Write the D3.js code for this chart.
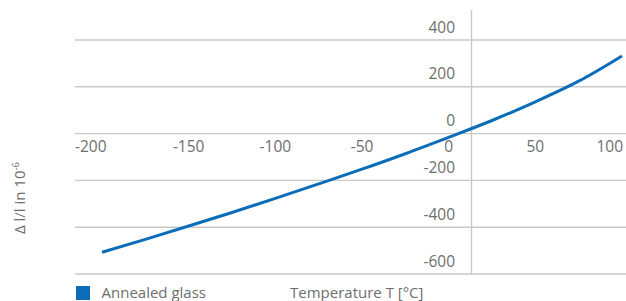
<html>
<head>
<meta charset="utf-8">
<title>Thermal expansion</title>
<script src="https://d3js.org/d3.v7.min.js"></script>
<style>
body { margin:0; background:#fff; }
text { font-family:"Open Sans", sans-serif; fill:#6e6e6e; }
</style>
</head>
<body>
<div id="chart"></div>
<script>

// data
var temps = [-200, -175, -150, -125, -100, -75, -50, -25, 0, 25, 50, 75, 100];
var expansion = [-507, -452, -395, -337, -277, -215, -152, -86, -16, 56, 136, 224, 332];
var xTicks = [-200, -150, -100, -50, 0, 50, 100];
var yTicks = [400, 200, 0, -200, -400, -600];
var seriesName = "Annealed glass";

var width = 626, height = 301;
var gridLeft = 75, axisX = 471.5;
var blue = "#0b6db8", grid = "#c9c9c9";

var svg = d3.select("#chart").append("svg")
	.attr("width", width).attr("height", height);

var x = d3.scaleLinear().domain([-200, 100]).range([102, 622]);
var y = d3.scaleLinear().domain([-600, 400]).range([274, 40]);

// horizontal grid lines (0 is the x axis)
svg.append("g").selectAll("line").data(yTicks).enter().append("line")
	.attr("x1", gridLeft).attr("x2", width)
	.attr("y1", function(d) { return y(d); })
	.attr("y2", function(d) { return y(d); })
	.attr("stroke", grid).attr("stroke-width", 1.4);

// vertical axis line
svg.append("line")
	.attr("x1", axisX).attr("x2", axisX)
	.attr("y1", 10).attr("y2", y(-600))
	.attr("stroke", grid).attr("stroke-width", 1.4);

// y labels sit above their grid line
svg.append("g").selectAll("text").data(yTicks).enter().append("text")
	.attr("x", 455)
	.attr("y", function(d) { return y(d) - 7.5; })
	.attr("text-anchor", "end")
	.style("font-size", "15.5px")
	.text(function(d) { return d; });

// x labels
svg.append("g").selectAll("text").data(xTicks).enter().append("text")
	.attr("x", function(d, i) {
		if (i == 0) return gridLeft;
		if (i == xTicks.length - 1) return width - 3;
		return x(d);
	})
	.attr("y", y(0) + 18.5)
	.attr("text-anchor", function(d, i) {
		if (i == 0) return "start";
		if (i == xTicks.length - 1) return "end";
		return "middle";
	})
	.style("font-size", "15.5px")
	.text(function(d) { return d; });

// the curve
var line = d3.line()
	.x(function(d, i) { return x(temps[i]); })
	.y(function(d) { return y(d); })
	.curve(d3.curveMonotoneX);

svg.append("path")
	.datum(expansion)
	.attr("d", line)
	.attr("fill", "none")
	.attr("stroke", blue)
	.attr("stroke-width", 3);

// y axis title
var yt = svg.append("text")
	.attr("transform", "translate(24.5,198) rotate(-90)")
	.attr("text-anchor", "middle")
	.style("font-size", "15px");
yt.append("tspan").text("\u0394 l/l in 10");
yt.append("tspan").attr("dy", -6).style("font-size", "9.5px").text("-6");

// legend
svg.append("rect")
	.attr("x", 76).attr("y", 286).attr("width", 14).attr("height", 14)
	.attr("fill", blue);
svg.append("text")
	.attr("x", 101.5).attr("y", 297.5)
	.style("font-size", "15px")
	.text(seriesName);

svg.append("text")
	.attr("x", 290).attr("y", 297.5)
	.style("font-size", "15px")
	.text("Temperature T [\u00b0C]");

</script>
</body>
</html>
